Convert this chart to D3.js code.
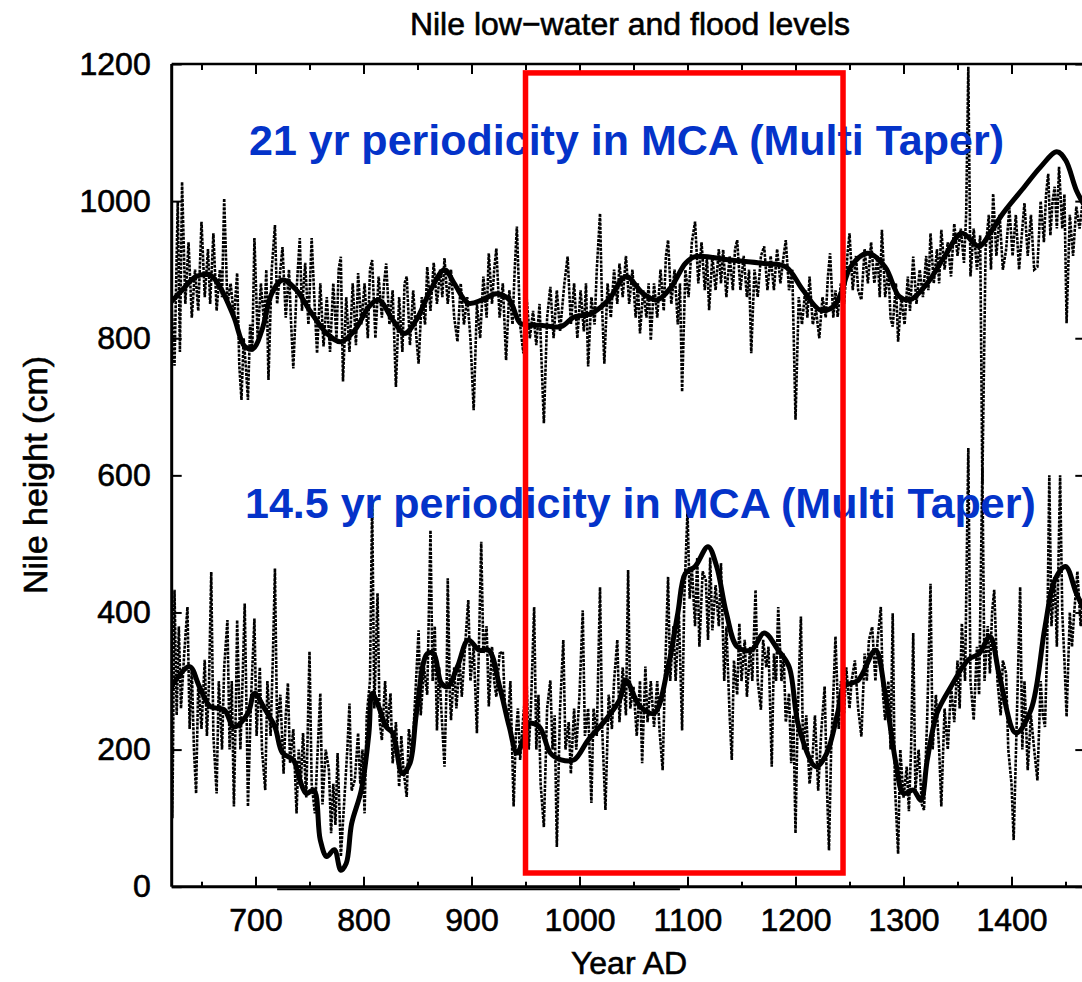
<!DOCTYPE html>
<html>
<head>
<meta charset="utf-8">
<script src="https://cdn.jsdelivr.net/npm/d3@7"></script>
<style>
  body { margin: 0; background: #fff; }
  svg { display: block; font-family: "Liberation Sans", Arial, Helvetica, sans-serif; }
</style>
</head>
<body>
<div id="chart"></div>
<script>
const width = 1082;
const height = 982;
const margins = {
  top: 64,
  bottom: 95.3,
  left: 171.7,
  right: -2.3,
};

// year range shown on the x axis and the y range (cm)
const yearDomain = [622.4, 1467.4];
const heightDomain = [0, 1200];
const yearMajorTicks = [700, 800, 900, 1000, 1100, 1200, 1300, 1400];
const yearMinorTicks = [650, 750, 850, 950, 1050, 1150, 1250, 1350, 1450];
const heightTicks = [0, 200, 400, 600, 800, 1000, 1200];

// flood levels, yearly values (cm)
const floodYears = [622, 625, 628, 630, 632, 635, 638, 641, 644, 647, 650, 653, 656, 658, 661, 664, 667, 669, 671, 674, 677, 680, 683, 685, 687, 689, 691, 693, 695, 697, 699, 702, 705, 708, 710, 712, 715, 718, 720, 723, 725, 728, 731, 733, 735, 738, 741, 743, 746, 749, 752, 755, 757, 760, 763, 766, 769, 772, 775, 777, 779, 781, 784, 787, 790, 793, 795, 798, 801, 804, 806, 808, 811, 814, 817, 819, 821, 824, 827, 830, 833, 836, 838, 840, 843, 846, 849, 851, 854, 857, 859, 862, 865, 868, 871, 873, 875, 878, 881, 884, 887, 890, 893, 896, 899, 902, 905, 908, 911, 914, 916, 919, 921, 923, 926, 929, 932, 935, 938, 940, 942, 945, 948, 951, 954, 957, 960, 963, 965, 967, 970, 973, 976, 979, 982, 986, 989, 992, 995, 998, 1001, 1004, 1006, 1008, 1011, 1014, 1016, 1019, 1021, 1023, 1026, 1029, 1032, 1035, 1037, 1040, 1043, 1046, 1049, 1052, 1054, 1056, 1059, 1062, 1064, 1066, 1069, 1072, 1075, 1078, 1080, 1082, 1085, 1088, 1091, 1093, 1095, 1098, 1101, 1104, 1107, 1110, 1113, 1116, 1118, 1120, 1123, 1126, 1129, 1131, 1133, 1136, 1139, 1142, 1144, 1146, 1149, 1152, 1155, 1157, 1159, 1162, 1165, 1168, 1171, 1174, 1177, 1180, 1183, 1186, 1189, 1191, 1194, 1197, 1200, 1203, 1206, 1209, 1211, 1213, 1216, 1219, 1222, 1225, 1228, 1230, 1232, 1235, 1237, 1239, 1242, 1245, 1248, 1250, 1253, 1256, 1258, 1261, 1264, 1267, 1270, 1273, 1276, 1278, 1280, 1283, 1286, 1288, 1290, 1293, 1295, 1298, 1301, 1304, 1306, 1309, 1312, 1315, 1318, 1321, 1323, 1325, 1328, 1331, 1333, 1335, 1338, 1341, 1344, 1347, 1350, 1353, 1356, 1358, 1360, 1362, 1365, 1368, 1371, 1373, 1376, 1379, 1381, 1383, 1386, 1389, 1392, 1395, 1398, 1401, 1404, 1407, 1410, 1412, 1415, 1418, 1421, 1424, 1427, 1430, 1432, 1434, 1436, 1438, 1440, 1442, 1444, 1447, 1449, 1451, 1454, 1457, 1460, 1463, 1466];
const floodLevels = [860, 760, 1000, 780, 1028, 850, 940, 830, 900, 840, 970, 860, 930, 850, 953, 840, 900, 860, 1004, 850, 880, 830, 895, 760, 710, 800, 760, 710, 820, 780, 946, 800, 880, 820, 900, 739, 900, 965, 850, 900, 933, 830, 900, 820, 756, 870, 946, 840, 910, 820, 946, 840, 778, 880, 788, 860, 780, 880, 800, 900, 919, 737, 860, 780, 880, 790, 895, 820, 880, 800, 900, 914, 800, 890, 830, 880, 909, 820, 870, 729, 860, 780, 880, 890, 790, 870, 800, 763, 860, 820, 904, 840, 910, 850, 900, 860, 917, 850, 900, 830, 795, 880, 820, 860, 800, 695, 850, 800, 890, 830, 924, 850, 900, 931, 830, 880, 768, 870, 820, 900, 963, 820, 778, 860, 800, 840, 790, 850, 760, 676, 830, 875, 800, 870, 810, 880, 919, 820, 880, 800, 870, 810, 880, 759, 860, 820, 900, 982, 840, 763, 880, 830, 900, 850, 909, 860, 920, 850, 900, 830, 880, 807, 870, 830, 880, 797, 880, 830, 900, 840, 920, 943, 850, 900, 820, 880, 722, 900, 860, 940, 970, 880, 940, 870, 920, 841, 920, 870, 930, 880, 929, 860, 920, 870, 930, 943, 870, 920, 860, 900, 778, 900, 860, 920, 934, 870, 920, 870, 930, 880, 920, 943, 870, 900, 681, 860, 820, 870, 830, 890, 820, 841, 800, 860, 830, 890, 924, 830, 870, 831, 880, 850, 920, 953, 870, 920, 870, 856, 930, 880, 940, 880, 920, 860, 958, 860, 900, 830, 817, 880, 795, 860, 820, 890, 840, 919, 850, 900, 860, 920, 870, 953, 880, 930, 880, 958, 900, 940, 890, 967, 920, 960, 910, 980, 1196, 890, 960, 900, 950, 588, 930, 980, 900, 1011, 920, 980, 900, 929, 990, 920, 980, 900, 960, 997, 920, 980, 900, 904, 1000, 940, 1010, 1040, 950, 1000, 1021, 960, 1050, 960, 1010, 822, 980, 920, 992, 960, 1000];

// flood levels, smoothed curve
const floodSmoothYears = [622, 632, 645, 658, 667, 680, 690, 698, 706, 715, 725, 738, 750, 766, 779, 792, 805, 814, 827, 838, 849, 862, 875, 884, 897, 910, 923, 935, 945, 954, 963, 983, 995, 1011, 1027, 1043, 1059, 1072, 1085, 1098, 1107, 1140, 1171, 1191, 1207, 1223, 1235, 1242, 1251, 1267, 1283, 1296, 1306, 1322, 1338, 1354, 1370, 1380, 1392, 1412, 1427, 1442, 1450, 1460, 1467];
const floodSmooth = [853, 870, 890, 892, 875, 831, 788, 785, 812, 865, 885, 870, 841, 807, 795, 812, 846, 856, 827, 807, 827, 870, 900, 880, 851, 856, 865, 856, 822, 819, 819, 817, 831, 836, 856, 890, 865, 856, 875, 909, 919, 914, 909, 904, 870, 841, 846, 865, 904, 924, 904, 861, 856, 880, 919, 953, 934, 953, 982, 1021, 1050, 1072, 1060, 1016, 995];

// low-water levels, yearly values (cm)
const lowYears = [622, 623, 625, 627, 629, 631, 634, 637, 639, 641, 643, 645, 647, 650, 653, 655, 657, 659, 661, 664, 666, 669, 671, 674, 676, 678, 680, 682, 683, 686, 688, 690, 692, 693, 696, 699, 701, 704, 706, 709, 711, 714, 716, 718, 720, 723, 726, 728, 730, 732, 735, 738, 740, 742, 744, 747, 750, 752, 755, 757, 760, 762, 765, 768, 770, 772, 774, 776, 778, 779, 782, 785, 787, 789, 792, 795, 797, 799, 801, 803, 806, 808, 810, 813, 815, 817, 820, 822, 825, 827, 830, 833, 835, 837, 840, 842, 845, 848, 851, 853, 856, 859, 862, 864, 866, 868, 870, 872, 875, 877, 878, 880, 881, 884, 886, 889, 891, 894, 897, 899, 902, 905, 907, 909, 911, 914, 916, 919, 921, 923, 926, 929, 931, 934, 936, 939, 941, 943, 945, 948, 951, 953, 955, 958, 960, 962, 964, 967, 970, 973, 975, 977, 979, 982, 985, 987, 990, 992, 995, 997, 1000, 1003, 1005, 1008, 1011, 1013, 1016, 1019, 1021, 1024, 1027, 1030, 1032, 1035, 1037, 1040, 1043, 1045, 1047, 1050, 1053, 1056, 1058, 1061, 1063, 1066, 1069, 1072, 1074, 1077, 1079, 1082, 1084, 1087, 1089, 1092, 1095, 1097, 1100, 1102, 1104, 1107, 1109, 1111, 1114, 1117, 1119, 1121, 1123, 1126, 1129, 1131, 1134, 1136, 1139, 1141, 1143, 1146, 1148, 1150, 1153, 1155, 1158, 1160, 1163, 1165, 1168, 1170, 1173, 1175, 1178, 1180, 1182, 1184, 1187, 1189, 1191, 1194, 1196, 1198, 1200, 1202, 1205, 1207, 1210, 1213, 1216, 1218, 1221, 1224, 1227, 1229, 1231, 1233, 1235, 1237, 1240, 1242, 1245, 1247, 1250, 1252, 1255, 1258, 1261, 1264, 1266, 1268, 1271, 1274, 1276, 1279, 1281, 1283, 1286, 1288, 1290, 1292, 1295, 1297, 1300, 1303, 1305, 1307, 1309, 1311, 1314, 1317, 1319, 1322, 1325, 1327, 1330, 1333, 1335, 1338, 1341, 1344, 1347, 1350, 1352, 1354, 1357, 1360, 1362, 1365, 1368, 1370, 1373, 1375, 1378, 1380, 1382, 1384, 1387, 1390, 1392, 1395, 1397, 1400, 1402, 1405, 1408, 1410, 1412, 1415, 1418, 1421, 1424, 1427, 1429, 1431, 1433, 1435, 1437, 1440, 1442, 1445, 1447, 1449, 1451, 1454, 1456, 1458, 1461, 1464, 1466];
const lowLevels = [380, 100, 433, 250, 380, 260, 340, 408, 230, 320, 200, 136, 300, 230, 331, 220, 300, 459, 220, 136, 300, 200, 320, 389, 200, 300, 117, 280, 389, 200, 300, 413, 230, 117, 280, 391, 220, 320, 200, 141, 300, 220, 330, 464, 230, 280, 165, 250, 297, 180, 230, 107, 200, 150, 224, 130, 343, 150, 107, 180, 282, 120, 200, 170, 78, 150, 90, 195, 100, 44, 120, 200, 267, 140, 156, 224, 150, 200, 107, 250, 300, 564, 260, 428, 240, 214, 300, 230, 282, 180, 240, 146, 220, 170, 131, 230, 190, 280, 374, 250, 320, 280, 520, 300, 380, 228, 320, 260, 175, 300, 450, 280, 243, 320, 260, 330, 277, 350, 418, 300, 350, 224, 360, 503, 340, 380, 263, 350, 300, 277, 340, 343, 260, 248, 300, 117, 220, 260, 185, 250, 301, 200, 260, 408, 200, 280, 150, 87, 260, 301, 200, 250, 58, 260, 360, 200, 240, 165, 260, 200, 280, 403, 220, 260, 122, 260, 220, 437, 230, 112, 280, 230, 300, 360, 240, 320, 250, 462, 260, 292, 220, 300, 180, 321, 240, 300, 233, 300, 230, 170, 300, 452, 300, 380, 300, 400, 228, 420, 549, 420, 467, 380, 480, 350, 460, 447, 360, 480, 374, 440, 380, 472, 300, 380, 250, 185, 330, 280, 384, 300, 360, 277, 350, 300, 433, 300, 258, 360, 320, 350, 175, 340, 300, 408, 300, 340, 240, 282, 180, 250, 78, 250, 394, 200, 250, 150, 195, 250, 140, 230, 292, 150, 53, 200, 280, 365, 230, 300, 253, 320, 260, 301, 330, 260, 219, 340, 300, 360, 379, 300, 360, 408, 280, 243, 300, 200, 399, 150, 48, 200, 130, 175, 110, 200, 370, 140, 200, 120, 112, 250, 442, 200, 280, 200, 117, 260, 200, 292, 240, 330, 260, 384, 300, 640, 300, 243, 350, 280, 610, 300, 380, 311, 400, 433, 300, 250, 330, 311, 200, 150, 68, 250, 437, 200, 300, 170, 250, 200, 155, 300, 250, 233, 350, 600, 380, 452, 350, 600, 400, 330, 248, 400, 350, 399, 460, 380, 420];

// low-water levels, smoothed curve
const lowSmoothYears = [622, 626, 639, 648, 658, 671, 680, 693, 699, 709, 718, 725, 735, 741, 747, 754, 760, 766, 773, 779, 784, 789, 798, 805, 808, 814, 821, 827, 836, 843, 849, 859, 865, 872, 878, 887, 897, 907, 916, 926, 935, 942, 948, 954, 963, 973, 983, 995, 1008, 1024, 1037, 1043, 1056, 1069, 1082, 1091, 1098, 1107, 1119, 1127, 1136, 1146, 1159, 1171, 1184, 1194, 1203, 1219, 1229, 1239, 1245, 1258, 1274, 1283, 1293, 1300, 1309, 1316, 1322, 1331, 1344, 1360, 1370, 1380, 1389, 1404, 1418, 1431, 1440, 1450, 1460, 1467];
const lowSmooth = [290, 301, 321, 292, 263, 258, 233, 253, 282, 258, 233, 195, 185, 156, 136, 141, 68, 44, 54, 24, 34, 92, 141, 224, 282, 263, 233, 224, 165, 180, 253, 340, 340, 297, 292, 321, 360, 345, 345, 292, 233, 195, 214, 238, 233, 195, 185, 185, 214, 243, 272, 301, 263, 253, 321, 399, 457, 467, 496, 467, 399, 350, 345, 370, 345, 321, 233, 175, 195, 253, 292, 301, 345, 282, 180, 136, 141, 126, 185, 253, 292, 331, 340, 365, 306, 224, 258, 379, 447, 467, 428, 405];

// highlighted Medieval Climate Anomaly window
const mcaYears = [950, 1244];
const mcaHeights = [20, 1187];

const annotations = [
  { text: "21 yr periodicity in MCA (Multi Taper)", x: 249, y: 155 },
  { text: "14.5 yr periodicity in MCA (Multi Taper)", x: 245, y: 518 },
];

const floodData = floodYears.map((year, i) => ({ year, level: floodLevels[i] }));
const floodSmoothData = floodSmoothYears.map((year, i) => ({ year, level: floodSmooth[i] }));
const lowData = lowYears.map((year, i) => ({ year, level: lowLevels[i] }));
const lowSmoothData = lowSmoothYears.map((year, i) => ({ year, level: lowSmooth[i] }));

// SCALES
const xScale = d3
  .scaleLinear()
  .domain(yearDomain)
  .range([margins.left, width - margins.right]);

const yScale = d3
  .scaleLinear()
  .domain(heightDomain)
  .range([height - margins.bottom, margins.top]);

const svg = d3
  .select("#chart")
  .append("svg")
  .attr("width", width)
  .attr("height", height);

const plotBottom = height - margins.bottom;
const plotRight = width - margins.right;

// scanned-print look: black text is slightly heavier than plain Arial
function inkText(sel, size) {
  sel.attr("fill", "#000")
    .attr("stroke", "#000")
    .attr("stroke-width", 0.6)
    .style("font-size", `${size}px`)
    .style("font-family", '"Liberation Sans", Arial, Helvetica, sans-serif');
}

// AXES
const xAxisMajor = d3.axisBottom(xScale).tickValues(yearMajorTicks).tickSize(-10).tickSizeOuter(0).tickPadding(22).tickFormat(d3.format("d"));
const xAxisMinor = d3.axisBottom(xScale).tickValues(yearMinorTicks).tickSize(-5).tickSizeOuter(0).tickFormat("");
const xTopMajor = d3.axisTop(xScale).tickValues(yearMajorTicks).tickSize(-10).tickSizeOuter(0).tickFormat("");
const xTopMinor = d3.axisTop(xScale).tickValues(yearMinorTicks).tickSize(-6).tickSizeOuter(0).tickFormat("");
const yAxis = d3.axisLeft(yScale).tickValues(heightTicks).tickSize(-10).tickSizeOuter(0).tickPadding(21).tickFormat(d3.format("d"));
const yRight = d3.axisRight(yScale).tickValues(heightTicks).tickSize(-9).tickSizeOuter(0).tickFormat("");

function styleAxis(g) {
  g.select(".domain").remove();
  g.selectAll("line").attr("stroke", "#000").attr("stroke-width", 2);
  g.selectAll("text").call(inkText, 32);
}

svg.append("g").attr("transform", `translate(0,${plotBottom})`).call(xAxisMajor).call(styleAxis);
svg.append("g").attr("transform", `translate(0,${plotBottom})`).call(xAxisMinor).call(styleAxis);
svg.append("g").attr("transform", `translate(0,${margins.top})`).call(xTopMajor).call(styleAxis);
svg.append("g").attr("transform", `translate(0,${margins.top})`).call(xTopMinor).call(styleAxis);
svg.append("g").attr("transform", `translate(${margins.left},0)`).call(yAxis).call(styleAxis);
svg.append("g").attr("transform", `translate(${plotRight},0)`).call(yRight).call(styleAxis);

// frame
const frame = svg.append("g").attr("stroke", "#000").attr("fill", "none");
frame.append("line")
  .attr("x1", margins.left).attr("x2", plotRight)
  .attr("y1", margins.top).attr("y2", margins.top)
  .attr("stroke-width", 2.5);
frame.append("line")
  .attr("x1", margins.left).attr("x2", plotRight)
  .attr("y1", plotBottom).attr("y2", plotBottom)
  .attr("stroke-width", 3);
frame.append("line")
  .attr("x1", margins.left).attr("x2", margins.left)
  .attr("y1", margins.top).attr("y2", plotBottom)
  .attr("stroke-width", 3);
// darker stretch under the x axis (scan artefact in the original)
frame.append("line")
  .attr("x1", xScale(720)).attr("x2", xScale(1093))
  .attr("y1", plotBottom + 2.5).attr("y2", plotBottom + 2.5)
  .attr("stroke-width", 2);

// DATA LINES
svg.append("clipPath").attr("id", "plot-clip")
  .append("rect")
  .attr("x", margins.left)
  .attr("y", margins.top)
  .attr("width", plotRight - margins.left)
  .attr("height", plotBottom - margins.top);

const lines = svg.append("g").attr("clip-path", "url(#plot-clip)");

const rawLine = d3.line()
  .x((d) => xScale(d.year))
  .y((d) => yScale(d.level));

const smoothLine = d3.line()
  .curve(d3.curveCatmullRom.alpha(0.5))
  .x((d) => xScale(d.year))
  .y((d) => yScale(d.level));

[floodData, lowData].forEach((series) => {
  lines.append("path")
    .attr("d", rawLine(series))
    .attr("fill", "none")
    .attr("stroke", "#000")
    .attr("stroke-width", 2.6)
    .attr("stroke-dasharray", "3,1.2");
});

[floodSmoothData, lowSmoothData].forEach((series) => {
  lines.append("path")
    .attr("d", smoothLine(series))
    .attr("fill", "none")
    .attr("stroke", "#000")
    .attr("stroke-width", 5)
    .attr("stroke-linejoin", "round");
});

// TITLES
svg.append("text")
  .text("Nile low\u2212water and flood levels")
  .attr("x", 630)
  .attr("y", 35)
  .attr("text-anchor", "middle")
  .call(inkText, 32);

svg.append("text")
  .text("Year AD")
  .attr("x", 629)
  .attr("y", 974)
  .attr("text-anchor", "middle")
  .call(inkText, 32);

svg.append("text")
  .text("Nile height (cm)")
  .attr("transform", "translate(47,475) rotate(-90)")
  .attr("text-anchor", "middle")
  .call(inkText, 34);

// ANNOTATIONS
svg.selectAll("text.note")
  .data(annotations)
  .enter()
  .append("text")
  .attr("class", "note")
  .text((d) => d.text)
  .attr("x", (d) => d.x)
  .attr("y", (d) => d.y)
  .attr("fill", "#0433c9")
  .style("font-weight", "bold")
  .style("font-size", "43px");

// MCA box
svg.append("rect")
  .attr("x", xScale(mcaYears[0]))
  .attr("y", yScale(mcaHeights[1]))
  .attr("width", xScale(mcaYears[1]) - xScale(mcaYears[0]))
  .attr("height", yScale(mcaHeights[0]) - yScale(mcaHeights[1]))
  .attr("fill", "none")
  .attr("stroke", "#ff0000")
  .attr("stroke-width", 5.5);
</script>
</body>
</html>
